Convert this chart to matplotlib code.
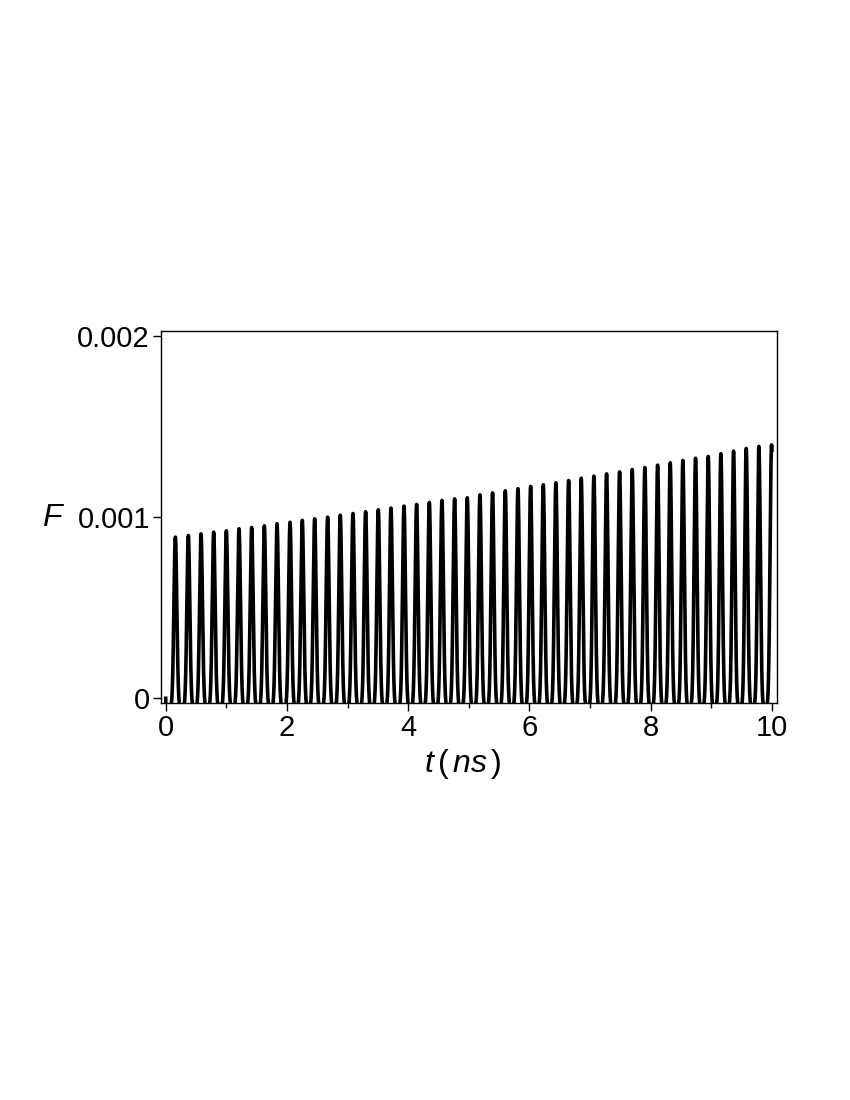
import numpy as np
import matplotlib
matplotlib.use("Agg")
import matplotlib.pyplot as plt
from matplotlib.ticker import MultipleLocator, FixedLocator

# ---- data ----
peak_times = [0.159, 0.373, 0.582, 0.791, 1.000, 1.209, 1.418, 1.627, 1.836, 2.051,
              2.253, 2.457, 2.671, 2.880, 3.089, 3.298, 3.507, 3.716, 3.931, 4.139,
              4.349, 4.557, 4.766, 4.975, 5.184, 5.392, 5.602, 5.811, 6.020, 6.229,
              6.437, 6.647, 6.855, 7.064, 7.273, 7.488, 7.696, 7.905, 8.115, 8.323,
              8.532, 8.741, 8.950, 9.159, 9.368, 9.577, 9.786, 9.995]
peak_heights = [0.000889, 0.000898, 0.000907, 0.000916, 0.000924, 0.000935, 0.000942, 0.000951,
                0.000963, 0.000971, 0.000981, 0.000990, 0.000999, 0.001010, 0.001019, 0.001029,
                0.001040, 0.001049, 0.001060, 0.001069, 0.001080, 0.001091, 0.001100, 0.001106,
                0.001122, 0.001133, 0.001145, 0.001156, 0.001168, 0.001178, 0.001189, 0.001201,
                0.001214, 0.001225, 0.001238, 0.001249, 0.001262, 0.001273, 0.001286, 0.001299,
                0.001312, 0.001324, 0.001334, 0.001349, 0.001363, 0.001378, 0.001389, 0.001398]
pulse_width = 0.034        # ns, estimated width of each pulse
trough_level = -0.00005    # minima between pulses (below the visible range)
t_start, t_end = 0.0, 10.0
start_value = 0.0

x_ticks = [0, 2, 4, 6, 8, 10]
y_ticks = [0, 0.001, 0.002]
y_ticklabels = ["0", "0.001", "0.002"]

# ---- build curve from the peaks ----
t = np.linspace(t_start, t_end, 40001)
F = np.full_like(t, trough_level)
for tp, h in zip(peak_times, peak_heights):
    F += (h - trough_level) * np.exp(-((t - tp) / pulse_width) ** 2)
t = np.concatenate([[t_start], t])
F = np.concatenate([[start_value], F])

plt.rcParams['font.family'] = ['Liberation Sans', 'DejaVu Sans']
plt.rcParams['mathtext.fontset'] = 'custom'
plt.rcParams['mathtext.it'] = 'Liberation Sans:italic'
plt.rcParams['mathtext.rm'] = 'Liberation Sans'

fig = plt.figure(figsize=(8.5, 11), dpi=100)
ax = fig.add_axes([161/850, 1-702.7/1100, (776.7-161)/850, (702.7-331)/1100])

ax.plot(t, F, color='black', lw=2.6, solid_joinstyle='round')

ax.set_xlim(-0.078, 10.08)
ax.set_ylim(-0.0000243, 0.0020259)

ax.xaxis.set_major_locator(FixedLocator(x_ticks))
ax.xaxis.set_minor_locator(MultipleLocator(1))
ax.set_yticks(y_ticks)
ax.set_yticklabels(y_ticklabels)

for s in ax.spines.values():
    s.set_linewidth(1.0)
    s.set_color('black')
ax.tick_params(axis='both', which='major', direction='out', length=6, width=1.0,
               labelsize=21, pad=2, colors='black')
ax.tick_params(axis='x', which='minor', direction='out', length=3.5, width=1.0)

fig.text(54/850, 1-518/1100, r'$F$', fontsize=23, ha='center', va='center')
fig.text(463/850, 1-764/1100, r'$t\,(\,ns\,)$', fontsize=23, ha='center', va='center')

fig.savefig('out.png', dpi=100)
